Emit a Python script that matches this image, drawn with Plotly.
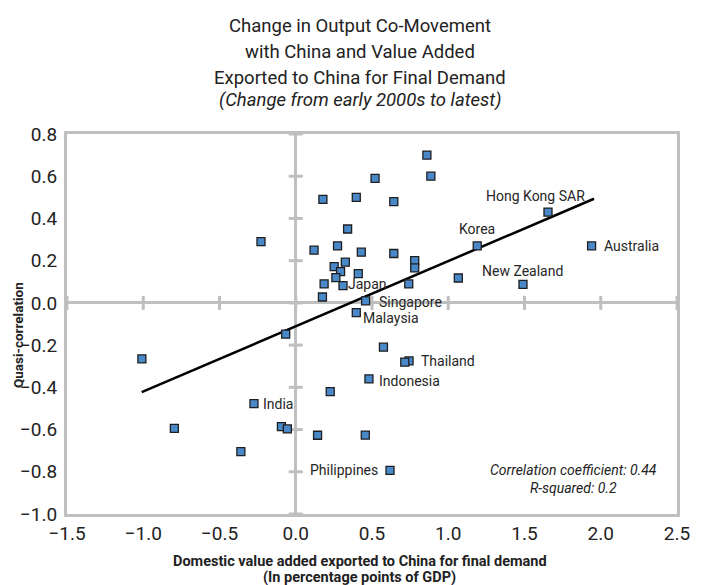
import plotly.graph_objects as go

# ---- data ----
x_vals = [0.86, 0.886, 0.52, 0.178, 0.397, 0.643, 0.34, -0.228, 0.12, 0.274,
          0.43, 0.643, 0.78, 0.78, 0.325, 0.252, 0.294, 0.263, 0.41, 0.186,
          0.31, 0.741, 0.175, 0.458, 1.654, 1.19, 1.94, 1.066, 1.49, 0.397,
          -0.066, 0.575, 0.743, 0.715, 0.48, 0.226, -0.274, -0.094, -0.055, 0.143,
          0.456, 0.618, -1.009, -0.796, -0.36]
y_vals = [0.70, 0.60, 0.59, 0.49, 0.50, 0.48, 0.35, 0.29, 0.25, 0.27,
          0.24, 0.234, 0.20, 0.166, 0.193, 0.172, 0.148, 0.12, 0.139, 0.09,
          0.082, 0.09, 0.028, 0.01, 0.43, 0.27, 0.27, 0.118, 0.088, -0.046,
          -0.148, -0.21, -0.275, -0.281, -0.36, -0.42, -0.477, -0.586, -0.597, -0.627,
          -0.626, -0.793, -0.265, -0.594, -0.705]
labels = [""] * 20 + ["Japan", "", "", "Singapore", "Hong Kong SAR", "Korea", "Australia", "",
          "New Zealand", "Malaysia", "", "", "Thailand", "", "Indonesia", "", "India", "", "",
          "", "", "Philippines", "", "", ""]

trend_x = [-1.01, 1.956]
trend_slope = 0.309
trend_intercept = -0.111

x_ticks = [-1.5, -1.0, -0.5, 0.0, 0.5, 1.0, 1.5, 2.0, 2.5]
y_ticks = [-1.0, -0.8, -0.6, -0.4, -0.2, 0.0, 0.2, 0.4, 0.6, 0.8]

title_lines = ["Change in Output Co-Movement", "with China and Value Added",
               "Exported to China for Final Demand", "<i>(Change from early 2000s to latest)</i>"]
x_title_lines = ["<b>Domestic value added exported to China for final demand</b>",
                 "<b>(In percentage points of GDP)</b>"]

# label placement (style): anchor, xshift, yshift in pixels
label_style = {
    "Hong Kong SAR": ("center", -12, 16),
    "Korea": ("center", 0, 17),
    "Australia": ("left", 10, 0),
    "New Zealand": ("center", 0, 13),
    "Japan": ("left", 3, 2),
    "Singapore": ("left", 11, -1),
    "Malaysia": ("left", 5, -5),
    "Thailand": ("left", 10, 0),
    "Indonesia": ("left", 8, -2),
    "India": ("left", 7, 0),
    "Philippines": ("right", -10, 0),
}
title_y = [1.2842, 1.2158, 1.1474, 1.0895]
x_title_y = [-0.1237, -0.1684]

FONT = "Roboto, Liberation Sans, sans-serif"
GRAY = "#bfbfbf"
TXT = "#222222"

fig = go.Figure()

# tick marks on the zero lines
fig.add_trace(go.Scatter(
    x=[0] * len(y_ticks), y=y_ticks, mode="markers", hoverinfo="skip",
    marker=dict(symbol="line-ew", size=10, line=dict(color=GRAY, width=3)), showlegend=False))
fig.add_trace(go.Scatter(
    x=x_ticks, y=[0] * len(x_ticks), mode="markers", hoverinfo="skip",
    marker=dict(symbol="line-ns", size=10, line=dict(color=GRAY, width=3)), showlegend=False))

# trend line
fig.add_trace(go.Scatter(
    x=trend_x, y=[trend_intercept + trend_slope * v for v in trend_x],
    mode="lines", line=dict(color="black", width=2.5), showlegend=False))

# points
fig.add_trace(go.Scatter(
    x=x_vals, y=y_vals, mode="markers",
    marker=dict(symbol="square", size=8, color="#4a89c9", line=dict(color="#1e1e1e", width=1.3)),
    showlegend=False))

annotations = []
for xv, yv, lab in zip(x_vals, y_vals, labels):
    if not lab:
        continue
    anchor, dx, dy = label_style[lab]
    annotations.append(dict(
        x=xv, y=yv, xref="x", yref="y", text=lab, showarrow=False,
        xanchor=anchor, yanchor="middle", xshift=dx, yshift=dy,
        font=dict(family=FONT, size=14, color="#262626")))

annotations.append(dict(
    x=1.822, y=-0.8365, xref="x", yref="y", showarrow=False, align="center",
    text="<i>Correlation coefficient: 0.44<br>R-squared: 0.2</i>",
    font=dict(family=FONT, size=14, color=TXT)))

# title lines
for line, ty in zip(title_lines, title_y):
    annotations.append(dict(
        x=0.4803, y=ty, xref="paper", yref="paper", showarrow=False, text=line,
        xanchor="center", yanchor="middle", font=dict(family=FONT, size=18.5, color=TXT)))

# axis titles
annotations.append(dict(
    x=-0.0803, y=0.471, xref="paper", yref="paper", showarrow=False, textangle=-90,
    text="<b>Quasi-correlation</b>", xanchor="center", yanchor="middle",
    font=dict(family=FONT, size=13.5, color=TXT)))
for line, ty in zip(x_title_lines, x_title_y):
    annotations.append(dict(
        x=0.4803, y=ty, xref="paper", yref="paper", showarrow=False, text=line,
        xanchor="center", yanchor="middle", font=dict(family=FONT, size=14.5, color=TXT)))

fig.update_layout(
    width=704, height=585,
    margin=dict(l=59, r=35, t=126, b=79),
    plot_bgcolor="white", paper_bgcolor="white",
    font=dict(family=FONT, color=TXT),
    xaxis=dict(range=[-1.5, 2.5], tickvals=x_ticks, tickformat=".1f",
               showgrid=False, zeroline=True, zerolinecolor=GRAY, zerolinewidth=3,
               showline=True, linecolor=GRAY, linewidth=3, mirror=True, ticks="",
               automargin=False,
               tickfont=dict(family=FONT, size=19, color=TXT)),
    yaxis=dict(range=[-1.0, 0.8], tickvals=y_ticks, tickformat=".1f",
               showgrid=False, zeroline=True, zerolinecolor=GRAY, zerolinewidth=3,
               showline=True, linecolor=GRAY, linewidth=3, mirror=True, ticks="",
               automargin=False, ticklabelstandoff=3,
               tickfont=dict(family=FONT, size=19, color=TXT)),
    annotations=annotations,
)

fig.write_html("out.html")
